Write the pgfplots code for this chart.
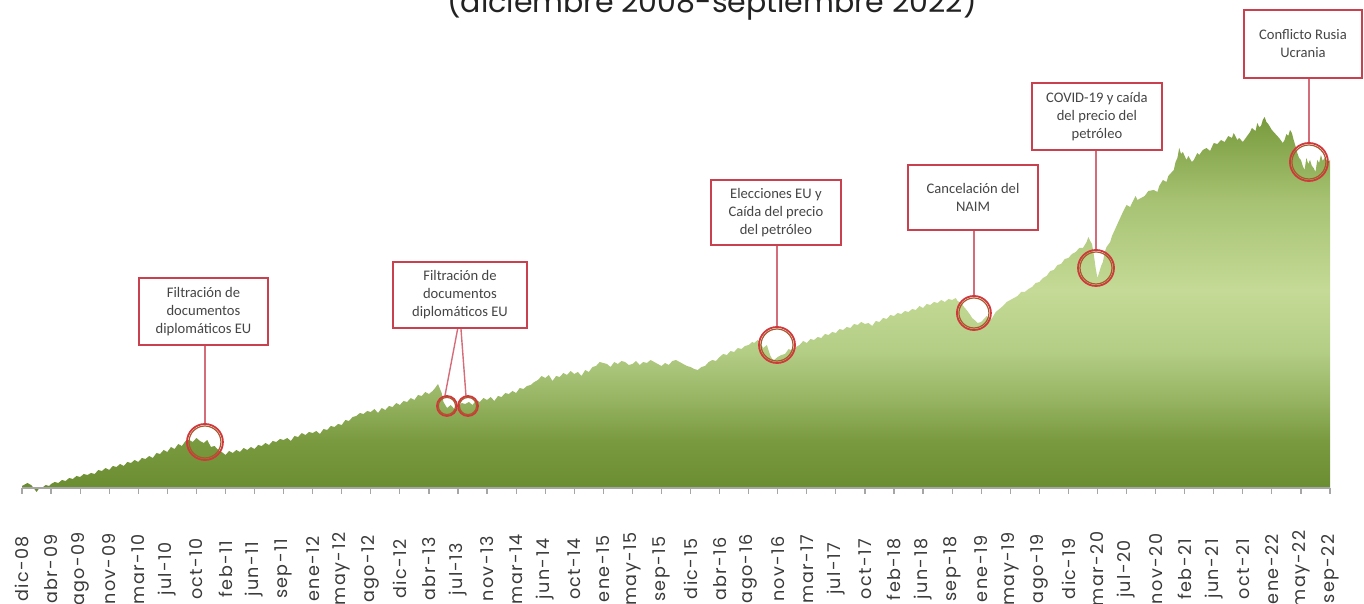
\documentclass[border=0pt]{standalone}
\usepackage{pgfplots}
\pgfplotsset{compat=1.18}
\usepackage{fontspec}
\setmainfont{Poppins}
\newfontfamily\boxfont{Carlito}
\newfontfamily\tickfont{Poppins}[LetterSpace=8]
\definecolor{shA}{HTML}{6A8C30}
\definecolor{shB}{HTML}{7A9A40}
\definecolor{shC}{HTML}{96B462}
\definecolor{shD}{HTML}{B4CE86}
\definecolor{shE}{HTML}{C4DA96}
\definecolor{shF}{HTML}{A6C272}
\definecolor{shG}{HTML}{789A3C}
\pgfdeclareverticalshading{areashade}{100bp}{color(0bp)=(shA); color(25bp)=(shA); color(31.9bp)=(shB); color(37.3bp)=(shC); color(43.9bp)=(shD); color(51.9bp)=(shE); color(63.9bp)=(shF); color(75bp)=(shG); color(100bp)=(shG)}
\definecolor{axgray}{HTML}{A6A6A6}
\definecolor{lblgray}{HTML}{3A3A3A}
\definecolor{boxred}{HTML}{C9404F}
\definecolor{linered}{HTML}{D56C7A}
\definecolor{circred}{HTML}{D0383C}
\definecolor{circbrown}{HTML}{A8582C}
\definecolor{boxtext}{HTML}{454545}
\definecolor{titlegray}{HTML}{222222}
\tikzset{
  box/.style={draw=boxred, line width=0.8pt, fill=white, align=center, inner sep=0pt,
    font=\boxfont\fontsize{7.3}{9}\selectfont, text=boxtext},
  ring/.style={draw=circred, line width=0.9pt},
  ring2/.style={draw=circbrown, line width=0.6pt},
}
\pgfplotstableread{
w v
0 2
2 4
3 5
5 3
6 1
8 -4
10 1
11 0
13 3
15 2
16 4
18 6
20 5
22 8
24 7
26 10
28 9
30 12
32 11
34 14
36 13
38 15
40 14
42 18
44 17
46 20
48 18
50 22
52 21
54 24
56 22
58 26
60 25
62 28
64 26
66 30
68 29
70 32
72 30
74 35
76 34
78 38
80 36
82 41
84 39
86 44
88 42
90 47
92 48
94 46
96 50
98 47
100 45
102 48
104 41
106 42
108 38
110 36
112 33
114 37
116 35
118 38
120 36
122 40
124 38
126 41
128 39
130 43
132 42
134 45
136 43
138 47
140 46
142 49
144 48
146 50
148 47
150 52
152 51
154 55
156 53
158 56
160 55
162 57
164 54
166 59
168 58
170 62
172 61
174 64
176 63
178 68
180 67
182 71
184 72
186 75
188 74
190 77
192 76
194 79
196 75
198 80
200 78
202 82
204 81
206 85
208 83
210 87
212 86
214 90
216 88
218 93
220 92
222 96
224 94
226 97
227 99
229 104
231 95
232 86
234 80
236 83
238 79
240 80
242 85
244 84
246 86
248 83
250 88
252 86
254 90
256 88
258 91
260 87
262 92
264 91
266 95
268 94
270 97
272 95
274 100
276 99
278 102
280 103
282 106
284 108
286 112
288 110
290 113
292 107
294 112
296 111
298 115
300 113
302 117
304 114
306 116
308 112
310 118
312 116
314 121
316 122
318 126
320 125
322 124
324 121
326 126
328 124
330 127
332 126
334 123
336 124
338 127
340 123
342 126
344 125
346 128
348 126
350 124
352 122
354 125
356 123
358 127
360 128
362 126
364 124
366 122
368 121
370 119
372 118
374 121
376 122
378 126
380 128
382 127
384 131
386 134
388 133
390 137
392 136
394 140
396 139
398 142
400 143
402 146
403 145
405 148
406 146
408 140
410 143
412 132
413 129
414 128
416 131
418 133
420 134
422 139
423 138
426 141
428 143
430 147
432 145
434 149
436 148
438 151
440 150
442 154
444 153
446 156
448 155
450 159
452 158
454 161
456 160
458 164
460 163
462 166
464 164
466 165
468 162
470 167
472 166
474 170
476 169
478 173
480 172
482 175
484 174
486 177
488 176
490 179
492 178
494 182
496 180
498 184
500 183
502 186
504 185
506 188
508 186
510 189
512 188
514 190
515 187
517 185
519 180
520 178
522 173
523 170
525 167
526 165
528 166
530 170
531 172
533 168
534 170
536 176
538 179
540 182
542 186
544 188
546 190
548 192
550 196
552 196
554 199
556 201
558 205
560 206
562 210
564 212
566 217
568 218
570 223
572 224
574 229
576 230
578 234
580 236
582 240
584 240
586 246
587 251
588 247
589 244
590 233
591 220
592 210
593 216
594 222
595 226
596 236
597 241
599 246
600 252
602 260
604 268
606 276
608 283
610 281
611 285
613 292
614 288
616 290
618 292
620 297
623 298
625 296
626 302
628 308
630 306
631 312
633 316
634 318
635 326
636 330
637 340
638 334
639 336
641 328
642 332
644 326
645 328
647 335
648 333
650 338
652 340
654 337
656 345
658 344
660 348
662 346
664 352
666 350
667 355
669 348
670 350
672 346
674 351
676 356
677 360
679 357
680 365
681 361
682 362
683 368
684 371
685 366
686 364
688 358
689 356
691 352
692 350
694 345
695 348
696 354
697 352
698 358
699 355
700 348
701 342
702 335
703 330
704 328
705 322
706 318
707 330
708 324
709 328
710 322
711 320
712 316
713 328
714 325
715 333
716 327
717 330
719 326
720 328
}\datatable
\begin{document}
\begin{tikzpicture}
\useasboundingbox (0,0) rectangle (682pt,302pt);
\begin{axis}[
  at={(11pt,58pt)}, anchor=south west,
  scale only axis, width=654pt, height=235pt,
  xmin=0, xmax=720, ymin=0, ymax=470,
  clip=false, axis on top,
  hide y axis,
  axis x line*=bottom,
  x axis line style={draw=axgray, line width=0.6pt},
  xtick={0,16,...,720},
  xticklabels={dic-08,abr-09,ago-09,nov-09,mar-10,jul-10,oct-10,feb-11,jun-11,sep-11,ene-12,may-12,ago-12,dic-12,abr-13,jul-13,nov-13,mar-14,jun-14,oct-14,ene-15,may-15,sep-15,dic-15,abr-16,ago-16,nov-16,mar-17,jul-17,oct-17,feb-18,jun-18,sep-18,ene-19,may-19,ago-19,dic-19,mar-20,jul-20,nov-20,feb-21,jun-21,oct-21,ene-22,may-22,sep-22},
  xtick style={draw=axgray, line width=0.6pt},
  tick align=outside, major tick length=3pt,
  xticklabel style={yshift=-37.5pt, rotate=90, anchor=center, font=\tickfont\fontsize{8.8}{8.8}\selectfont, text=lblgray},
]
\addplot[draw=none, shade, shading=areashade] table[x=w, y=v] {\datatable} \closedcycle;

% 1
\draw[linered, line width=0.7pt] (axis cs:100.7,143) -- (axis cs:100.7,64);
\draw[ring] (axis cs:100.7,46) circle[radius=9pt];
\draw[ring2] (axis cs:100.7,46) circle[radius=8pt];
\node[box, minimum width=64.5pt, minimum height=33.5pt] at (axis cs:99.9,176.5) {Filtración de\\documentos\\diplomáticos EU};
% 2
\draw[linered, line width=0.7pt] (axis cs:239.9,160) -- (axis cs:232.8,92);
\draw[linered, line width=0.7pt] (axis cs:241.6,160) -- (axis cs:244.4,92);
\draw[ring] (axis cs:233.9,82) circle[radius=5pt];
\draw[ring2] (axis cs:233.9,82) circle[radius=4.3pt];
\draw[ring] (axis cs:245.5,82) circle[radius=5pt];
\draw[ring2] (axis cs:245.5,82) circle[radius=4.3pt];
\node[box, minimum width=67pt, minimum height=33pt] at (axis cs:241.1,193) {Filtración de\\documentos\\diplomáticos EU};
% 3
\draw[linered, line width=0.7pt] (axis cs:415.6,243) -- (axis cs:415.6,161);
\draw[ring] (axis cs:415.6,143) circle[radius=9pt];
\draw[ring2] (axis cs:415.6,143) circle[radius=8pt];
\node[box, minimum width=65pt, minimum height=32.5pt] at (axis cs:415,275.5) {Elecciones EU y\\Caída del precio\\del petróleo};
% 4
\draw[linered, line width=0.7pt] (axis cs:524,258) -- (axis cs:524,192);
\draw[ring] (axis cs:524,175) circle[radius=8.5pt];
\draw[ring2] (axis cs:524,175) circle[radius=7.5pt];
\node[box, minimum width=65pt, minimum height=32.5pt] at (axis cs:523.5,290.5) {Cancelación del\\NAIM};
% 5
\draw[linered, line width=0.7pt] (axis cs:591.2,338) -- (axis cs:591.2,238);
\draw[ring] (axis cs:591.2,220) circle[radius=9pt];
\draw[ring2] (axis cs:591.2,220) circle[radius=8pt];
\node[box, minimum width=65pt, minimum height=33.5pt] at (axis cs:591.7,371.5) {COVID-19 y caída\\del precio del\\petróleo};
% 6
\draw[linered, line width=0.7pt] (axis cs:708.4,410) -- (axis cs:708.4,345);
\draw[ring] (axis cs:708.4,326) circle[radius=9.5pt];
\draw[ring2] (axis cs:708.4,326) circle[radius=8.5pt];
\node[box, minimum width=59pt, minimum height=34pt] at (axis cs:705.1,444) {Conflicto Rusia\\Ucrania};
\end{axis}
\node[anchor=base, font=\fontsize{15}{15}\selectfont, text=titlegray] at (356pt,295.75pt) {(diciembre 2008-septiembre 2022)};
\end{tikzpicture}
\end{document}
